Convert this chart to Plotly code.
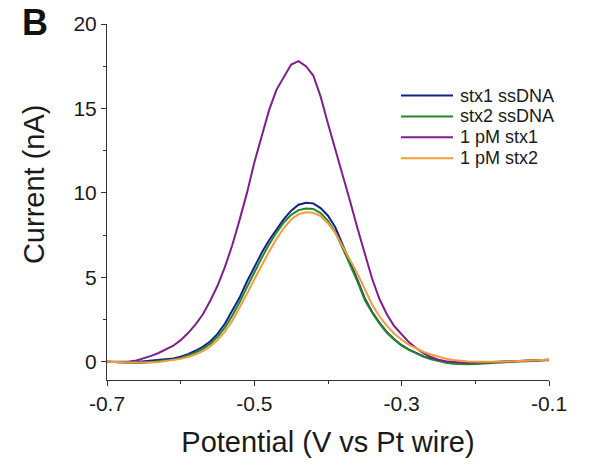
import plotly.graph_objects as go

# ---- data ----
potential = [round(-0.70 + 0.01 * i, 2) for i in range(61)]

stx1_ssDNA = [0.00, -0.02, -0.04, -0.05, -0.02, 0.03, 0.08, 0.11, 0.14, 0.20, 0.30, 0.45, 0.65, 0.88, 1.20,
              1.65, 2.25, 3.00, 3.80, 4.75, 5.60, 6.45, 7.20, 7.85, 8.45, 8.95, 9.30, 9.42, 9.38, 9.10,
              8.65, 7.95, 6.95, 5.90, 4.85, 3.75, 2.95, 2.30, 1.75, 1.33, 0.98, 0.72, 0.50, 0.32, 0.18,
              0.07, 0.00, -0.05, -0.07, -0.07, -0.06, -0.04, -0.02, -0.01, 0.00, 0.02, 0.04, 0.06, 0.08,
              0.10, 0.12]

stx2_ssDNA = [0.00, -0.02, -0.05, -0.07, -0.08, -0.06, -0.02, 0.03, 0.08, 0.14, 0.23, 0.36, 0.53, 0.76, 1.06,
              1.48, 2.02, 2.72, 3.52, 4.42, 5.30, 6.15, 6.95, 7.65, 8.25, 8.70, 8.98, 9.08, 9.05, 8.80,
              8.35, 7.65, 6.72, 5.75, 4.75, 3.65, 2.90, 2.25, 1.72, 1.30, 0.95, 0.70, 0.48, 0.29, 0.14,
              0.02, -0.06, -0.12, -0.15, -0.15, -0.13, -0.10, -0.07, -0.05, -0.03, -0.01, 0.01, 0.03, 0.05,
              0.07, 0.09]

pM_stx1 = [0.00, 0.00, 0.00, 0.02, 0.08, 0.20, 0.35, 0.52, 0.72, 0.95, 1.28, 1.70, 2.20, 2.80, 3.60,
           4.50, 5.60, 6.90, 8.40, 10.00, 11.80, 13.40, 14.90, 16.10, 16.85, 17.60, 17.80, 17.50, 16.95, 15.70,
           14.10, 12.60, 11.00, 9.50, 7.90, 6.40, 4.90, 3.70, 2.80, 2.10, 1.60, 1.15, 0.80, 0.50, 0.28,
           0.12, 0.03, -0.02, -0.04, -0.05, -0.05, -0.04, -0.03, -0.02, 0.00, 0.02, 0.04, 0.06, 0.08,
           0.10, 0.12]

pM_stx2 = [0.00, 0.00, -0.03, -0.05, -0.06, -0.06, -0.05, -0.02, 0.03, 0.09, 0.17, 0.28, 0.43, 0.63, 0.90,
           1.28, 1.78, 2.42, 3.18, 4.02, 4.88, 5.72, 6.52, 7.27, 7.92, 8.42, 8.74, 8.85, 8.82, 8.62,
           8.20, 7.62, 6.85, 6.05, 5.22, 4.30, 3.38, 2.68, 2.12, 1.66, 1.30, 1.00, 0.78, 0.58, 0.43,
           0.29, 0.18, 0.10, 0.05, 0.02, 0.00, -0.01, -0.01, 0.00, 0.01, 0.02, 0.04, 0.06, 0.08,
           0.10, 0.12]

series_names = ["stx1 ssDNA", "stx2 ssDNA", "1 pM stx1", "1 pM stx2"]
series_values = [stx1_ssDNA, stx2_ssDNA, pM_stx1, pM_stx2]
series_colors = ["#14208c", "#22892a", "#7e1f8c", "#f39c3e"]

x_tick_vals = [-0.7, -0.5, -0.3, -0.1]
x_tick_labels = ["-0.7", "-0.5", "-0.3", "-0.1"]
y_tick_vals = [0, 5, 10, 15, 20]
y_tick_labels = ["0", "5", "10", "15", "20"]

FONT = "Liberation Sans, Arial, sans-serif"
TXT = "#1a1a1a"

fig = go.Figure()
for name, vals, col in zip(series_names, series_values, series_colors):
    fig.add_trace(go.Scatter(x=potential, y=vals, mode="lines", name=name,
                             line=dict(color=col, width=2), showlegend=False))

# ---- legend drawn in paper coordinates (compact rows like the reference) ----
W, H = 590, 469
ML, MR, MT, MB = 107, 41, 22, 89
PW, PH = W - ML - MR, H - MT - MB


def px_x(px):
    return (px - ML) / PW


def px_y(py):
    return (H - MB - py) / PH


leg_line_x0, leg_line_x1, leg_text_x = 401, 453, 458
leg_row0, leg_row_step = 94, 21
shapes = []
annotations = []
for i, (name, col) in enumerate(zip(series_names, series_colors)):
    yy = px_y(leg_row0 + i * leg_row_step)
    shapes.append(dict(type="line", xref="paper", yref="paper",
                       x0=px_x(leg_line_x0), x1=px_x(leg_line_x1), y0=yy, y1=yy,
                       line=dict(color=col, width=2)))
    annotations.append(dict(text=name, xref="paper", yref="paper", x=px_x(leg_text_x), y=yy,
                            xanchor="left", yanchor="middle", showarrow=False,
                            font=dict(family=FONT, size=18, color=TXT)))

annotations.append(dict(text="Current (nA)", textangle=-90, xref="paper", yref="paper",
                        x=px_x(34), y=px_y(183), xanchor="center", yanchor="middle", showarrow=False,
                        font=dict(family=FONT, size=29, color=TXT)))
annotations.append(dict(text="<b>B</b>", xref="paper", yref="paper", x=px_x(20), y=px_y(-2),
                        xanchor="left", yanchor="top", showarrow=False,
                        font=dict(family=FONT, size=36, color="#111111")))

axis_common = dict(showgrid=False, zeroline=False, showline=True, linecolor="#333333", linewidth=1,
                   ticks="outside", ticklen=5, tickwidth=1, tickcolor="#333333",
                   tickfont=dict(family=FONT, size=21, color=TXT))

fig.update_layout(
    width=W, height=H,
    margin=dict(l=ML, r=MR, t=MT, b=MB),
    paper_bgcolor="white", plot_bgcolor="white",
    font=dict(family=FONT, color=TXT),
    showlegend=False,
    xaxis=dict(range=[-0.7, -0.1], tickvals=x_tick_vals, ticktext=x_tick_labels,
               minor=dict(dtick=0.1, tick0=-0.7, ticklen=3, ticks="outside", tickcolor="#333333"),
               title=dict(text="Potential (V vs Pt wire)", standoff=17,
                          font=dict(family=FONT, size=29, color=TXT)),
               **axis_common),
    yaxis=dict(range=[-1.08, 20], tickvals=y_tick_vals, ticktext=y_tick_labels,
               minor=dict(dtick=2.5, tick0=0, ticklen=3, ticks="outside", tickcolor="#333333"),
               **axis_common),
    shapes=shapes,
    annotations=annotations,
)

fig.write_html("out.html")
